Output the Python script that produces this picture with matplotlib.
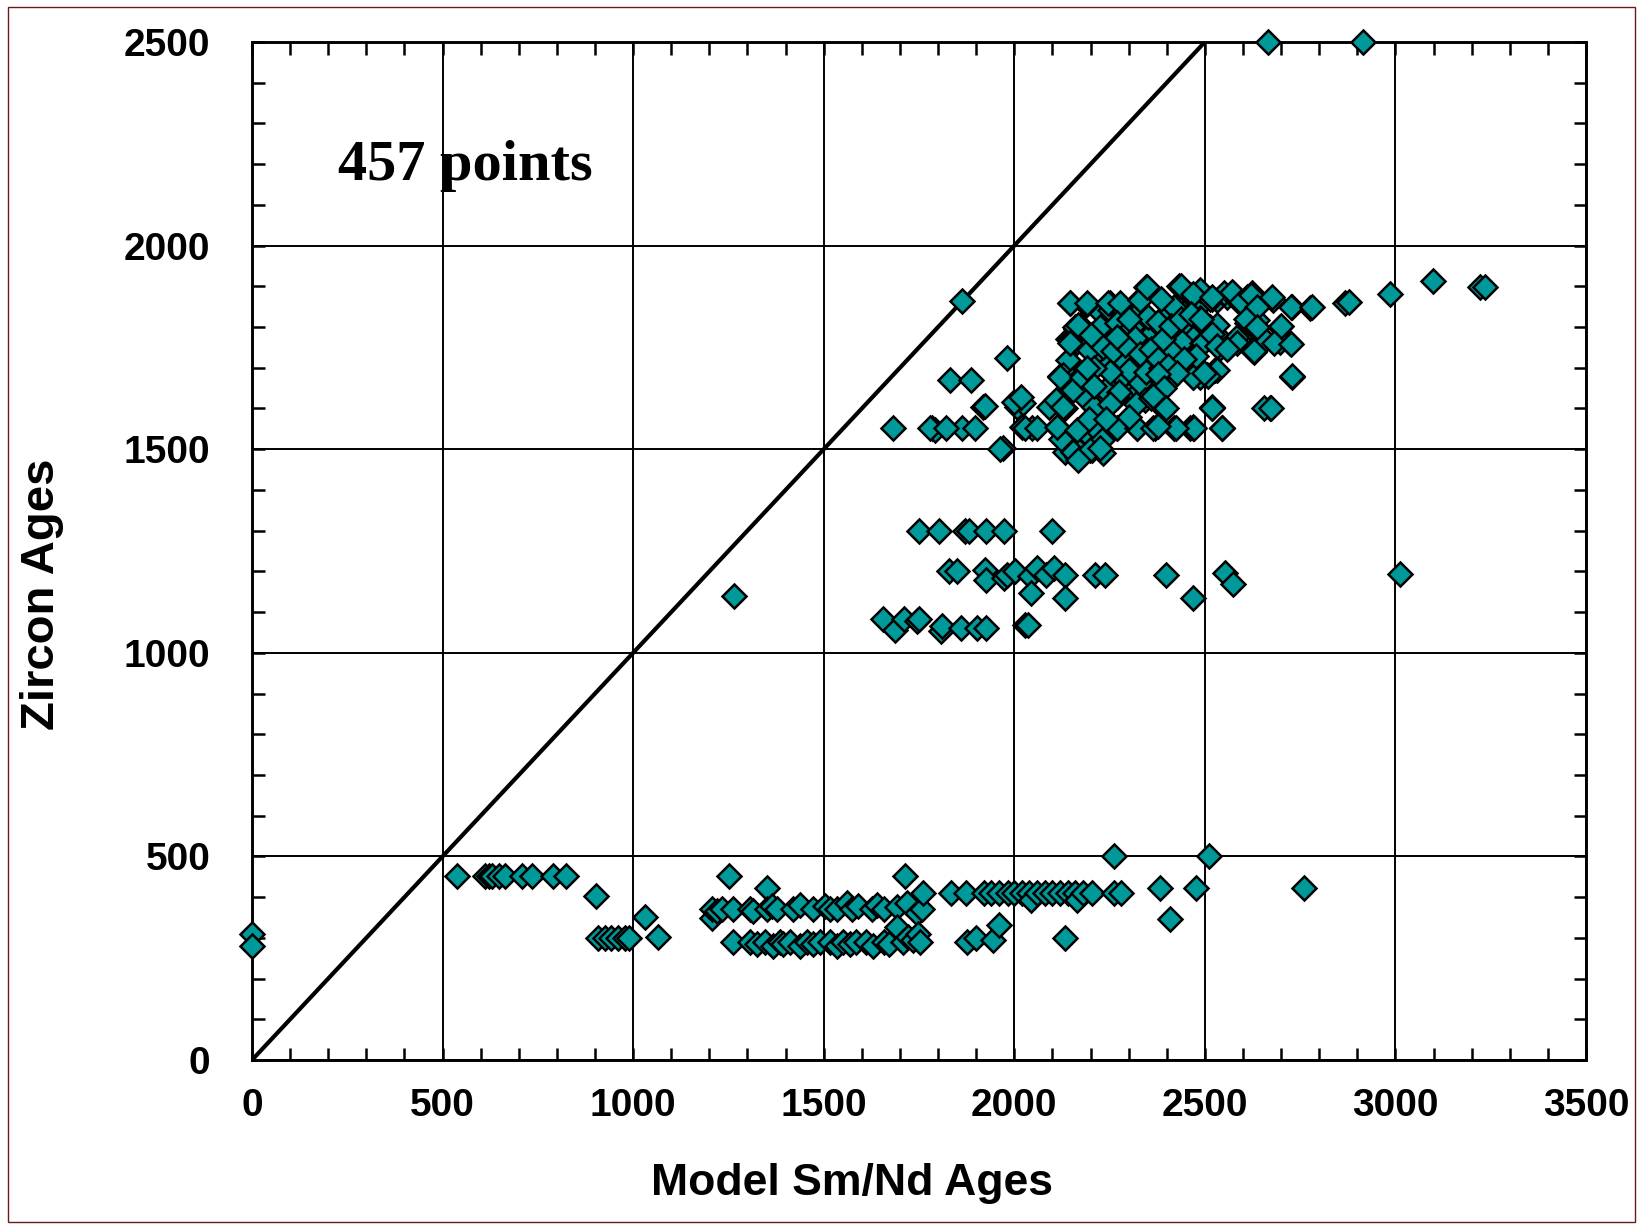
import matplotlib.pyplot as plt
from matplotlib.patches import Rectangle
from matplotlib.ticker import MultipleLocator

# (model Sm/Nd age, zircon age) pairs
edge_pts = [(0, 310), (0, 280), (1265, 1140), (1862, 1865), (2665, 2500),
            (2915, 2500), (3012, 1193)]

low_top = [(539, 453), (612, 453), (622, 453), (630, 453), (648, 453), (665, 453),
           (708, 453), (734, 453), (790, 453), (823, 453), (1252, 453), (1350, 422),
           (1714, 452), (2262, 500), (2511, 500), (902, 402), (1031, 350), (1064, 301),
           (908, 299), (925, 299), (943, 299), (961, 299), (978, 299), (988, 299)]

low_mid = [(1206, 348), (1206, 372), (1219, 365), (1232, 372), (1263, 372), (1307, 372),
           (1315, 365), (1350, 372), (1364, 378), (1377, 372), (1420, 372), (1438, 380),
           (1473, 372), (1503, 378), (1516, 372), (1534, 372), (1560, 385), (1574, 372),
           (1591, 378), (1626, 372), (1639, 380), (1657, 372), (1692, 375), (1718, 385),
           (1744, 360), (1757, 372), (1761, 410), (1834, 410), (1874, 410), (1920, 410),
           (1939, 410), (1960, 410), (1984, 410), (2000, 410), (2020, 410), (2039, 410),
           (2044, 394), (2060, 410), (2081, 410), (2099, 410), (2120, 410), (2141, 410),
           (2160, 410), (2165, 394), (2181, 410), (2205, 410), (2261, 410), (2280, 410),
           (2381, 422), (2477, 422), (2409, 346), (2760, 422)]

low_bottom = [(1263, 291), (1307, 291), (1324, 285), (1346, 291), (1368, 279), (1385, 291),
              (1394, 285), (1411, 291), (1438, 279), (1455, 291), (1473, 285), (1490, 291),
              (1516, 291), (1534, 279), (1551, 291), (1569, 285), (1586, 291), (1612, 291),
              (1630, 279), (1657, 291), (1670, 285), (1692, 327), (1709, 291), (1722, 302),
              (1735, 295), (1747, 310), (1753, 291), (1875, 291), (1900, 299), (1945, 295),
              (1960, 332), (2134, 299)]

band_1300 = [(1751, 1300), (1803, 1300), (1871, 1300), (1881, 1300), (1927, 1300),
             (1974, 1300), (2098, 1300)]

band_1200 = [(1829, 1200), (1851, 1200), (1922, 1204), (1927, 1180), (1972, 1184),
             (1982, 1190), (2002, 1200), (2042, 1188), (2060, 1208), (2082, 1190),
             (2105, 1208), (2133, 1190), (2044, 1147), (2133, 1135), (2213, 1190),
             (2238, 1190), (2397, 1190), (2468, 1135), (2553, 1195), (2573, 1170)]

band_1080 = [(1655, 1082), (1688, 1057), (1710, 1082), (1745, 1078), (1751, 1082),
             (1809, 1053), (1811, 1065), (1859, 1061), (1901, 1061), (1927, 1061),
             (2027, 1069), (2037, 1069)]

high_left = [(1980, 1725), (1832, 1670), (1886, 1670), (1919, 1604), (1683, 1553),
             (1783, 1551), (1792, 1547), (1862, 1551), (1897, 1551), (1971, 1502),
             (2006, 1604), (2024, 1613), (2020, 1555), (2046, 1551), (2090, 1604),
             (2111, 1555), (2129, 1604), (2133, 1494), (2155, 1510), (2164, 1482),
             (2203, 1498), (2225, 1519), (2234, 1490), (2186, 1543), (2208, 1555),
             (2269, 1551), (2321, 1551), (2369, 1551), (2418, 1551), (2461, 1551),
             (2470, 1555), (2518, 1600), (2545, 1551), (1779, 1553), (1820, 1553),
             (1963, 1500), (1922, 1607), (1999, 1615), (2018, 1628), (2027, 1551),
             (2060, 1551), (2115, 1551), (2120, 1679), (2134, 1602), (2142, 1718),
             (2142, 1770), (2162, 1795), (2170, 1680), (2123, 1525), (2110, 1620)]

high_core = [(2129, 1682), (2151, 1670), (2177, 1682), (2155, 1645), (2190, 1621),
             (2225, 1604), (2243, 1649), (2260, 1662), (2282, 1674), (2313, 1678),
             (2304, 1637), (2330, 1645), (2365, 1678), (2383, 1653), (2400, 1670),
             (2426, 1711), (2453, 1719), (2470, 1678), (2488, 1678), (2505, 1682),
             (2527, 1694), (2365, 1711), (2335, 1719), (2295, 1719), (2269, 1711),
             (2234, 1719), (2216, 1739), (2199, 1748), (2173, 1805), (2164, 1764),
             (2146, 1768), (2160, 1801), (2225, 1801), (2256, 1801), (2282, 1793),
             (2313, 1768), (2348, 1760), (2365, 1788), (2391, 1764), (2418, 1784),
             (2444, 1805), (2470, 1772), (2488, 1817), (2514, 1801), (2540, 1772),
             (2562, 1748), (2584, 1776), (2619, 1801), (2636, 1817), (2697, 1801),
             (2724, 1760), (2697, 1764), (2628, 1739), (2728, 1678), (2671, 1600),
             (2225, 1838), (2251, 1842), (2286, 1829), (2313, 1842), (2400, 1829),
             (2444, 1829), (2470, 1858), (2496, 1862), (2531, 1866), (2558, 1875),
             (2593, 1862), (2623, 1883), (2680, 1866), (2728, 1850), (2776, 1846),
             (2868, 1858), (2146, 1858), (2188, 1854), (2250, 1858), (2278, 1850),
             (2330, 1870), (2346, 1899), (2431, 1901), (2461, 1879), (2488, 1891),
             (2518, 1870), (2575, 1883), (2610, 1875)]

high_dense = [(2146, 1858), (2190, 1858), (2247, 1858), (2278, 1858), (2330, 1866),
              (2348, 1899), (2435, 1899), (2466, 1879), (2514, 1870), (2549, 1883),
              (2584, 1866), (2619, 1862), (2168, 1805), (2225, 1801), (2269, 1809),
              (2308, 1801), (2374, 1809), (2435, 1817), (2488, 1821), (2531, 1805),
              (2610, 1809), (2628, 1801), (2146, 1760), (2195, 1744), (2234, 1752),
              (2317, 1772), (2387, 1768), (2439, 1764), (2492, 1760), (2540, 1748),
              (2584, 1760), (2623, 1744), (2658, 1768), (2120, 1678), (2177, 1678),
              (2238, 1645), (2282, 1678), (2286, 1719), (2343, 1715), (2370, 1678),
              (2426, 1715), (2470, 1678), (2505, 1682), (2531, 1694), (2330, 1662),
              (2400, 1662), (2129, 1604), (2208, 1604), (2269, 1629), (2343, 1621),
              (2387, 1604), (2518, 1604), (2654, 1600), (2111, 1555), (2164, 1547),
              (2230, 1522), (2269, 1551), (2321, 1551), (2365, 1551), (2418, 1551),
              (2470, 1551), (2544, 1551), (2155, 1494), (2199, 1498), (2168, 1473),
              (2225, 1502)]

high_fill = [(2260, 1740), (2290, 1755), (2330, 1735), (2360, 1745), (2410, 1740),
             (2300, 1695), (2345, 1690), (2385, 1700), (2250, 1690), (2210, 1700),
             (2275, 1640), (2320, 1610), (2360, 1625), (2210, 1655), (2250, 1610),
             (2300, 1580), (2195, 1575), (2240, 1575), (2350, 1825), (2300, 1820),
             (2420, 1850), (2385, 1870), (2200, 1780), (2270, 1775), (2190, 1700)]

high_right = [(2437, 1902), (2468, 1882), (2520, 1874), (2572, 1886), (2594, 1861),
              (2620, 1878), (2638, 1849), (2677, 1874), (2725, 1849), (2782, 1849),
              (2878, 1861), (2985, 1882), (3099, 1912), (3223, 1898), (3236, 1898),
              (2607, 1820), (2638, 1799), (2699, 1803), (2681, 1762), (2725, 1758),
              (2629, 1742), (2729, 1680), (2507, 1680), (2520, 1601), (2673, 1601),
              (2546, 1552), (2472, 1552), (2424, 1552), (2376, 1812), (2389, 1771),
              (2411, 1803), (2437, 1820), (2463, 1832), (2490, 1820), (2494, 1762),
              (2520, 1783), (2533, 1754), (2559, 1746), (2476, 1729), (2446, 1721),
              (2376, 1721), (2402, 1705), (2428, 1688), (2498, 1688), (2376, 1684),
              (2394, 1651), (2363, 1630), (2398, 1601), (2376, 1556)]

groups = [edge_pts, low_top, low_mid, low_bottom, band_1300, band_1200, band_1080,
          high_left, high_core, high_dense, high_fill, high_right]

xs = [p[0] for g in groups for p in g]
ys = [p[1] for g in groups for p in g]

fig = plt.figure(figsize=(16.42, 12.25), dpi=100)
ax = fig.add_axes([252 / 1642, 1 - 1060 / 1225, (1586 - 252) / 1642, (1060 - 42) / 1225])

ax.set_xlim(0, 3500)
ax.set_ylim(0, 2500)
ax.xaxis.set_major_locator(MultipleLocator(500))
ax.yaxis.set_major_locator(MultipleLocator(500))
ax.xaxis.set_minor_locator(MultipleLocator(100))
ax.yaxis.set_minor_locator(MultipleLocator(100))
ax.grid(True, which='major', color='black', linewidth=1.4, zorder=1)
ax.set_axisbelow(True)

ax.tick_params(which='both', direction='in', top=True, right=True,
               length=9, width=1.8, color='black')
ax.tick_params(axis='x', which='major', pad=20)
ax.tick_params(axis='y', which='major', pad=30)
for lab in ax.get_xticklabels() + ax.get_yticklabels():
    lab.set_fontfamily('Liberation Sans')
    lab.set_fontweight('bold')
    lab.set_fontsize(28)
for s in ax.spines.values():
    s.set_linewidth(2.1)

ax.plot([0, 2500], [0, 2500], color='black', linewidth=3, zorder=2)

ax.plot(xs, ys, linestyle='none', marker='D', markersize=12,
        markerfacecolor='#009999', markeredgecolor='black', markeredgewidth=1.8,
        zorder=3, clip_on=False)

ax.text(226, 2161, '457 points', fontfamily='Liberation Serif', fontweight='bold',
        fontsize=42, ha='left', va='baseline')

fig.text(42 / 1642, 1 - 594 / 1225, 'Zircon Ages', rotation=90, ha='center', va='center',
         fontfamily='Liberation Sans', fontweight='bold', fontsize=34)
fig.text(852 / 1642, 1 - 1184 / 1225, 'Model Sm/Nd Ages', ha='center', va='center',
         fontfamily='Liberation Sans', fontweight='bold', fontsize=32)

fig.patches.append(Rectangle((8 / 1642, 3 / 1225), 1627 / 1642, 1215 / 1225,
                             transform=fig.transFigure, fill=False,
                             edgecolor='#6b1a1a', linewidth=1.0))

fig.savefig('out.png', dpi=100)
